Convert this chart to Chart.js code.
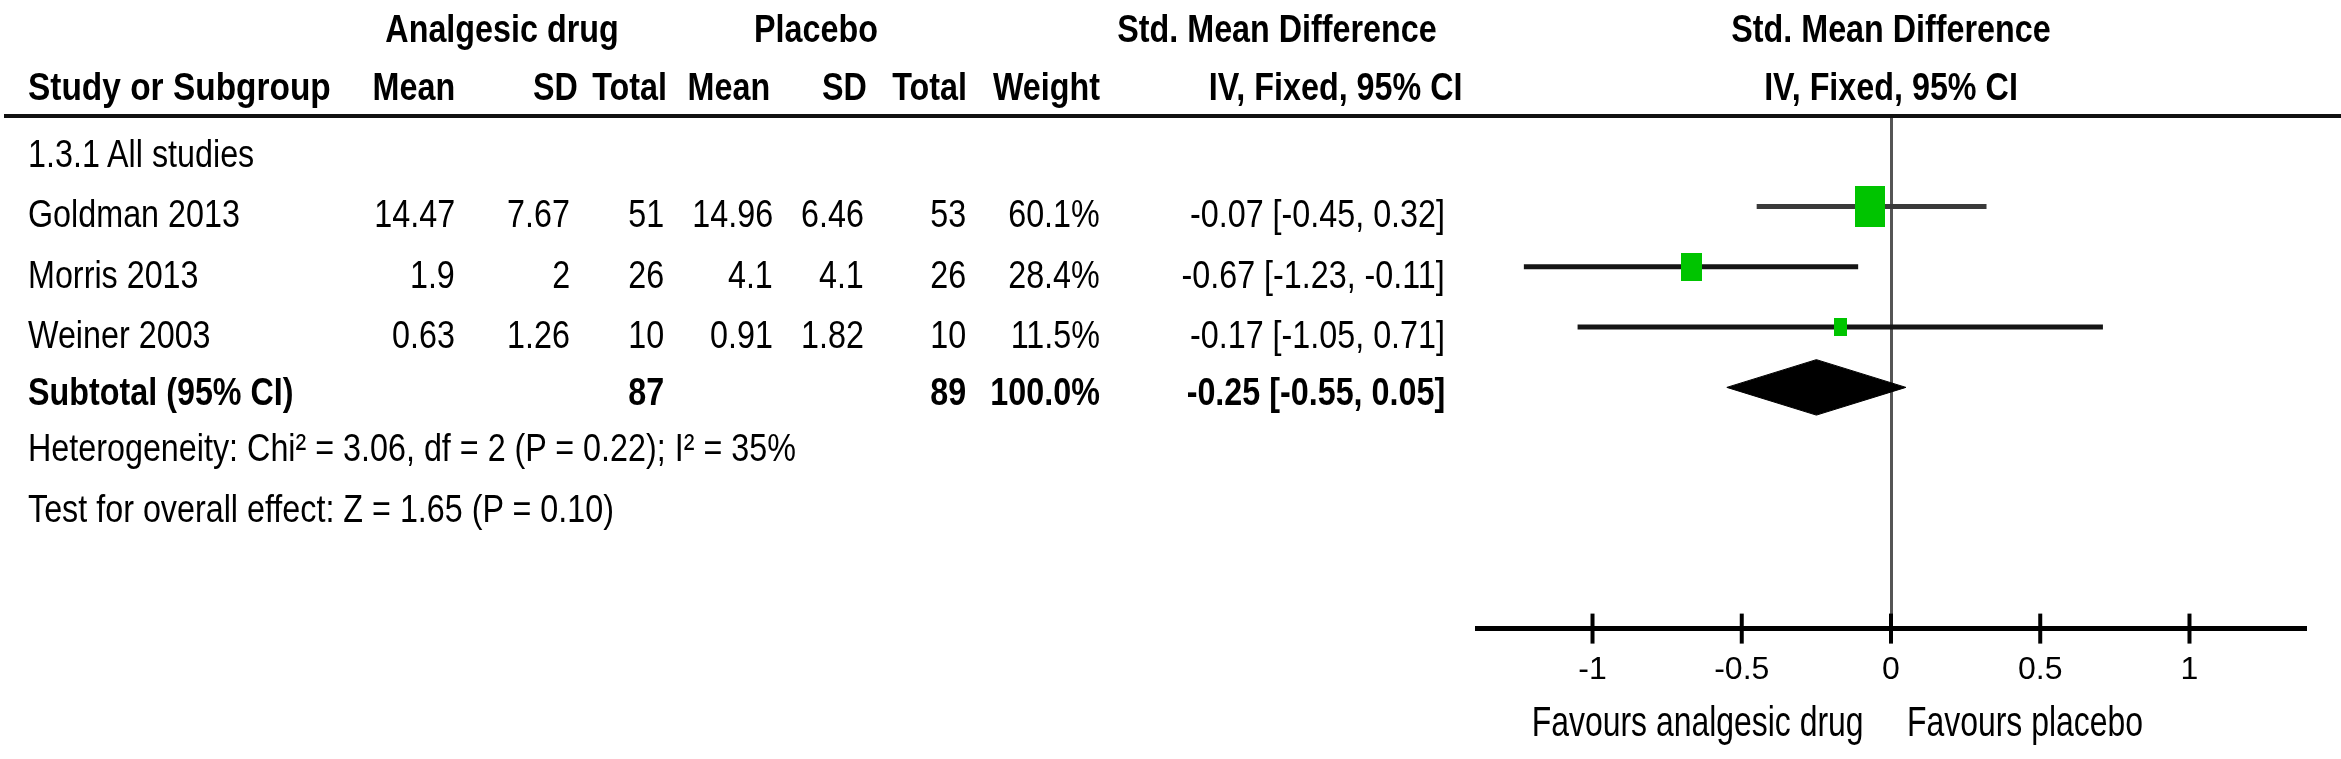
<!DOCTYPE html>
<html>
<head>
<meta charset="utf-8">
<title>Forest plot - analgesic drug vs placebo</title>
<script src="https://cdn.jsdelivr.net/npm/chart.js@4.4.1/dist/chart.umd.min.js"></script>
<style>
  html, body { margin: 0; padding: 0; background: #fff; }
  #wrap { position: relative; width: 2341px; height: 759px; overflow: hidden; background: #fff; }
  #forest { position: absolute; left: 0; top: 0; }
  .t { position: absolute; white-space: nowrap; font-family: 'Liberation Sans', Arial, sans-serif; color: #000; line-height: 1; }
  .rule { position: absolute; left: 4px; right: 0; top: 114px; height: 4px; background: #111; }
</style>
</head>
<body>
<div id="wrap">
  <canvas id="forest" width="2341" height="759"></canvas>
  <div class="rule"></div>
</div>
<script>
// study data
const studies = ['Goldman 2013', 'Morris 2013', 'Weiner 2003'];
const drugMean = [14.47, 1.9, 0.63];
const drugSD = [7.67, 2, 1.26];
const drugTotal = [51, 26, 10];
const placeboMean = [14.96, 4.1, 0.91];
const placeboSD = [6.46, 4.1, 1.82];
const placeboTotal = [53, 26, 10];
const weights = [60.1, 28.4, 11.5];
const smd = [-0.07, -0.67, -0.17];
const ciLow = [-0.45, -1.23, -1.05];
const ciHigh = [0.32, -0.11, 0.71];

// pooled result
const pooledTotals = [87, 89];
const pooledWeight = 100.0;
const pooledSmd = -0.25;
const pooledCi = [-0.55, 0.05];

const groupLabel = '1.3.1 All studies';
const heterogeneity = 'Heterogeneity: Chi\u00b2 = 3.06, df = 2 (P = 0.22); I\u00b2 = 35%';
const overallTest = 'Test for overall effect: Z = 1.65 (P = 0.10)';

const xTicks = [-1, -0.5, 0, 0.5, 1];
const xRange = [-1.387, 1.387];
const favourLeft = 'Favours analgesic drug';
const favourRight = 'Favours placebo';

// rows on the y scale: 0 = group label, 1..3 studies, 4 = subtotal
const axisRow = 8;
const green = '#00c400';

const boxImage = (w) => {
    const c = document.createElement('canvas');
    c.width = Math.round(w);
    c.height = Math.round(w * 1.35);
    const g = c.getContext('2d');
    g.fillStyle = green;
    g.fillRect(0, 0, c.width, c.height);
    return c;
};

const ciSets = studies.map((s, i) => ({
    label: s,
    data: [{ x: ciLow[i], y: i + 1 }, { x: ciHigh[i], y: i + 1 }],
    showLine: true,
    borderColor: i === 0 ? '#3a3a3a' : '#151515',
    borderWidth: 5,
    pointRadius: 0,
    order: 2
}));

const n = studies.length;
const diamondH = 0.46;

const chart = new Chart(document.getElementById('forest'), {
    type: 'scatter',
    data: {
        datasets: [
            {
                label: 'effect',
                data: smd.map((v, i) => ({ x: v, y: i + 1 })),
                pointStyle: weights.map(w => boxImage(3.9 * Math.sqrt(w))),
                pointRadius: 5,
                order: 0
            },
            ...ciSets,
            {
                label: 'pooled',
                data: [
                    { x: pooledCi[0], y: n + 1 },
                    { x: pooledSmd, y: n + 1 - diamondH },
                    { x: pooledCi[1], y: n + 1 },
                    { x: pooledSmd, y: n + 1 + diamondH },
                    { x: pooledCi[0], y: n + 1 }
                ],
                showLine: true,
                fill: 'shape',
                backgroundColor: '#000',
                borderColor: '#000',
                borderWidth: 1,
                pointRadius: 0,
                order: 1
            },
            {
                label: 'tick marks',
                data: xTicks.map(v => ({ x: v, y: axisRow })),
                pointStyle: 'line',
                pointRotation: 90,
                pointRadius: 15,
                pointBorderWidth: 4,
                pointBorderColor: '#000',
                clip: false,
                order: 3
            }
        ]
    },
    options: {
        responsive: false,
        animation: false,
        events: [],
        layout: { padding: { left: 1477, right: 36, top: 116, bottom: 48 } },
        plugins: { legend: { display: false }, tooltip: { enabled: false } },
        scales: {
            x: {
                type: 'linear',
                min: xRange[0],
                max: xRange[1],
                afterBuildTicks: (scale) => { scale.ticks = xTicks.map(v => ({ value: v })); },
                ticks: {
                    callback: (v) => String(v),
                    color: '#000',
                    padding: 22,
                    font: { family: "'Liberation Sans', Arial, sans-serif", size: 32 }
                },
                grid: {
                    drawTicks: false,
                    lineWidth: 3,
                    color: (c) => (c.tick && c.tick.value === 0 ? '#555' : 'rgba(0,0,0,0)')
                },
                border: { display: true, color: '#000', width: 5 }
            },
            y: {
                type: 'linear',
                min: -0.5,
                max: axisRow,
                reverse: true,
                display: false
            }
        }
    }
});

// table text, placed from the same scales
const wrap = document.getElementById('wrap');
const FS = 38;
const SX = 0.85;

function addText(str, x, base, align, bold, fs, sx) {
    fs = fs || FS;
    sx = sx || SX;
    const el = document.createElement('div');
    el.className = 't';
    el.textContent = str;
    el.style.fontSize = fs + 'px';
    el.style.fontWeight = bold ? 'bold' : 'normal';
    el.style.top = (base - 0.8465 * fs) + 'px';
    if (align === 'right') {
        el.style.right = (2341 - x) + 'px';
        el.style.transformOrigin = 'right center';
        el.style.transform = 'scaleX(' + sx + ')';
    } else if (align === 'center') {
        el.style.left = x + 'px';
        el.style.transformOrigin = 'center center';
        el.style.transform = 'translateX(-50%) scaleX(' + sx + ')';
    } else {
        el.style.left = x + 'px';
        el.style.transformOrigin = 'left center';
        el.style.transform = 'scaleX(' + sx + ')';
    }
    wrap.appendChild(el);
}

const ys = chart.scales.y;
const xs = chart.scales.x;
const rowBase = (r) => ys.getPixelForValue(r) + 21;
const plotMid = (chart.chartArea.left + chart.chartArea.right) / 2;

const labelX = 28;
const cols = { dMean: 455, dSD: 570, dTot: 664, pMean: 773, pSD: 864, pTot: 966, weight: 1100, ci: 1445 };

// header rows
addText('Analgesic drug', 502, 42, 'center', true);
addText('Placebo', 816, 42, 'center', true);
addText('Std. Mean Difference', 1277, 42, 'center', true);
addText('Std. Mean Difference', plotMid, 42, 'center', true);
addText('Study or Subgroup', labelX, 100, 'left', true, FS, 0.88);
addText('Mean', 455, 100, 'right', true);
addText('SD', 578, 100, 'right', true);
addText('Total', 667, 100, 'right', true);
addText('Mean', 770, 100, 'right', true);
addText('SD', 867, 100, 'right', true);
addText('Total', 967, 100, 'right', true);
addText('Weight', 1100, 100, 'right', true);
addText('IV, Fixed, 95% CI', 1463, 100, 'right', true);
addText('IV, Fixed, 95% CI', plotMid, 100, 'center', true);

addText(groupLabel, labelX, rowBase(0), 'left', false);

const ciText = (m, lo, hi) => m.toFixed(2) + ' [' + lo.toFixed(2) + ', ' + hi.toFixed(2) + ']';

studies.forEach((s, i) => {
    const b = rowBase(i + 1);
    addText(s, labelX, b, 'left', false);
    addText(String(drugMean[i]), cols.dMean, b, 'right', false);
    addText(String(drugSD[i]), cols.dSD, b, 'right', false);
    addText(String(drugTotal[i]), cols.dTot, b, 'right', false);
    addText(String(placeboMean[i]), cols.pMean, b, 'right', false);
    addText(String(placeboSD[i]), cols.pSD, b, 'right', false);
    addText(String(placeboTotal[i]), cols.pTot, b, 'right', false);
    addText(weights[i].toFixed(1) + '%', cols.weight, b, 'right', false);
    addText(ciText(smd[i], ciLow[i], ciHigh[i]), cols.ci, b, 'right', false);
});

const sb = rowBase(n + 1) - 3;
addText('Subtotal (95% CI)', labelX, sb, 'left', true);
addText(String(pooledTotals[0]), cols.dTot, sb, 'right', true);
addText(String(pooledTotals[1]), cols.pTot, sb, 'right', true);
addText(pooledWeight.toFixed(1) + '%', cols.weight, sb, 'right', true);
addText(ciText(pooledSmd, pooledCi[0], pooledCi[1]), cols.ci, sb, 'right', true);

addText(heterogeneity, labelX, rowBase(n + 1.88), 'left', false);
addText(overallTest, labelX, rowBase(n + 2.88), 'left', false);

// favours labels either side of the null line
const zeroPx = xs.getPixelForValue(0);
addText(favourLeft, zeroPx - 27, 737, 'right', false, 42, 0.76);
addText(favourRight, zeroPx + 16, 737, 'left', false, 42, 0.76);
</script>
</body>
</html>
